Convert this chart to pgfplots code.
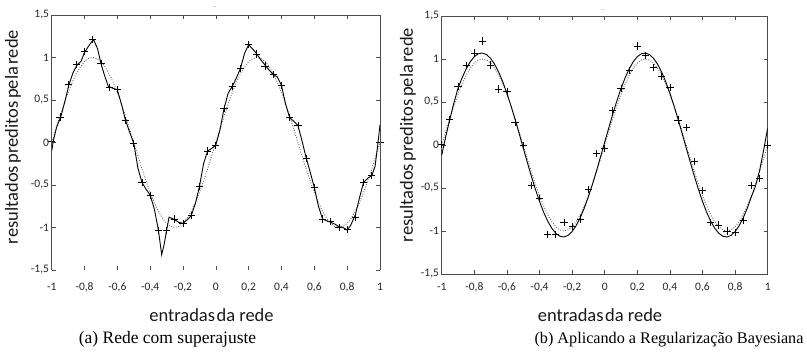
\documentclass[border=0pt]{standalone}
\usepackage{pgfplots}
\pgfplotsset{compat=1.18}
\usepackage{pgfplotstable}
\usepackage{fontspec}
\setmainfont{Carlito}
\newfontfamily\capfont{Liberation Serif}

\pgfplotstableread{
x y
-1.00 0.01
-0.95 0.30
-0.90 0.68
-0.85 0.92
-0.80 1.07
-0.75 1.21
-0.70 0.93
-0.65 0.65
-0.60 0.62
-0.55 0.26
-0.50 -0.01
-0.45 -0.47
-0.40 -0.62
-0.35 -1.04
-0.30 -1.04
-0.25 -0.90
-0.20 -0.95
-0.15 -0.86
-0.10 -0.52
-0.05 -0.10
0.00 -0.04
0.05 0.40
0.10 0.66
0.15 0.87
0.20 1.15
0.25 1.04
0.30 0.90
0.35 0.80
0.40 0.67
0.45 0.29
0.50 0.20
0.55 -0.19
0.60 -0.53
0.65 -0.90
0.70 -0.93
0.75 -1.00
0.80 -1.02
0.85 -0.88
0.90 -0.47
0.95 -0.39
1.00 0.00
}\datapts

\pgfplotstableread{
x y
-1.000 0.000
-0.975 0.156
-0.950 0.309
-0.925 0.454
-0.900 0.588
-0.875 0.707
-0.850 0.809
-0.825 0.891
-0.800 0.951
-0.775 0.988
-0.750 1.000
-0.725 0.988
-0.700 0.951
-0.675 0.891
-0.650 0.809
-0.625 0.707
-0.600 0.588
-0.575 0.454
-0.550 0.309
-0.525 0.156
-0.500 0.000
-0.475 -0.156
-0.450 -0.309
-0.425 -0.454
-0.400 -0.588
-0.375 -0.707
-0.350 -0.809
-0.325 -0.891
-0.300 -0.951
-0.275 -0.988
-0.250 -1.000
-0.225 -0.988
-0.200 -0.951
-0.175 -0.891
-0.150 -0.809
-0.125 -0.707
-0.100 -0.588
-0.075 -0.454
-0.050 -0.309
-0.025 -0.156
0.000 0.000
0.025 0.156
0.050 0.309
0.075 0.454
0.100 0.588
0.125 0.707
0.150 0.809
0.175 0.891
0.200 0.951
0.225 0.988
0.250 1.000
0.275 0.988
0.300 0.951
0.325 0.891
0.350 0.809
0.375 0.707
0.400 0.588
0.425 0.454
0.450 0.309
0.475 0.156
0.500 0.000
0.525 -0.156
0.550 -0.309
0.575 -0.454
0.600 -0.588
0.625 -0.707
0.650 -0.809
0.675 -0.891
0.700 -0.951
0.725 -0.988
0.750 -1.000
0.775 -0.988
0.800 -0.951
0.825 -0.891
0.850 -0.809
0.875 -0.707
0.900 -0.588
0.925 -0.454
0.950 -0.309
0.975 -0.156
1.000 0.000
}\truefn

\pgfplotstableread{
x y
-1.00 -0.10
-0.99 0.02
-0.97 0.18
-0.945 0.30
-0.92 0.48
-0.895 0.68
-0.87 0.82
-0.846 0.91
-0.82 0.96
-0.80 1.06
-0.77 1.15
-0.745 1.21
-0.72 1.10
-0.70 0.93
-0.68 0.80
-0.655 0.66
-0.63 0.64
-0.60 0.62
-0.575 0.45
-0.55 0.26
-0.525 0.12
-0.50 -0.01
-0.475 -0.30
-0.45 -0.47
-0.425 -0.55
-0.40 -0.62
-0.375 -0.78
-0.35 -1.03
-0.33 -1.32
-0.315 -1.20
-0.30 -1.03
-0.285 -0.88
-0.27 -0.89
-0.25 -0.91
-0.225 -0.94
-0.20 -0.95
-0.175 -0.91
-0.15 -0.86
-0.125 -0.72
-0.10 -0.52
-0.075 -0.25
-0.05 -0.10
-0.025 -0.07
0.00 -0.03
0.025 0.15
0.05 0.40
0.075 0.58
0.10 0.66
0.125 0.76
0.15 0.87
0.175 1.05
0.20 1.15
0.225 1.10
0.25 1.04
0.275 0.97
0.30 0.91
0.325 0.85
0.35 0.80
0.375 0.77
0.40 0.67
0.425 0.45
0.45 0.29
0.475 0.25
0.50 0.20
0.525 0.02
0.55 -0.18
0.575 -0.35
0.60 -0.53
0.625 -0.75
0.65 -0.90
0.675 -0.92
0.70 -0.94
0.725 -0.96
0.75 -0.99
0.775 -1.00
0.80 -1.03
0.82 -0.98
0.85 -0.85
0.875 -0.65
0.90 -0.47
0.925 -0.42
0.95 -0.39
0.97 -0.28
0.985 -0.05
1.00 0.21
}\overfit

\pgfplotstableread{
x y
-1.000 -0.12
-0.975 0.10
-0.950 0.30
-0.925 0.49
-0.900 0.66
-0.875 0.78
-0.850 0.885
-0.825 0.968
-0.800 1.027
-0.775 1.061
-0.750 1.070
-0.725 1.051
-0.700 1.007
-0.675 0.937
-0.650 0.846
-0.625 0.733
-0.600 0.601
-0.575 0.456
-0.550 0.299
-0.525 0.134
-0.500 -0.034
-0.475 -0.200
-0.450 -0.363
-0.425 -0.516
-0.400 -0.656
-0.375 -0.780
-0.350 -0.885
-0.325 -0.968
-0.300 -1.027
-0.275 -1.061
-0.250 -1.070
-0.225 -1.051
-0.200 -1.007
-0.175 -0.937
-0.150 -0.846
-0.125 -0.733
-0.100 -0.601
-0.075 -0.456
-0.050 -0.299
-0.025 -0.134
0.000 0.034
0.025 0.200
0.050 0.363
0.075 0.516
0.100 0.656
0.125 0.780
0.150 0.885
0.175 0.968
0.200 1.027
0.225 1.061
0.250 1.070
0.275 1.051
0.300 1.007
0.325 0.937
0.350 0.846
0.375 0.733
0.400 0.601
0.425 0.456
0.450 0.299
0.475 0.134
0.500 -0.034
0.525 -0.200
0.550 -0.363
0.575 -0.516
0.600 -0.656
0.625 -0.780
0.650 -0.885
0.675 -0.968
0.700 -1.027
0.725 -1.061
0.750 -1.070
0.775 -1.051
0.800 -1.007
0.825 -0.937
0.850 -0.846
0.875 -0.733
0.900 -0.601
0.925 -0.48
0.950 -0.30
0.975 -0.06
1.000 0.20
}\bayes

\begin{document}
\begin{tikzpicture}[x=1bp,y=1bp]
\useasboundingbox (0,0) rectangle (807bp,353bp);
\pgfplotsset{
  myax/.style={
    scale only axis,
    xmin=-1, xmax=1, ymin=-1.5, ymax=1.5,
    xtick={-1,-0.8,-0.6,-0.4,-0.2,0,0.2,0.4,0.6,0.8,1},
    xticklabels={-1,{-0,8},{-0,6},{-0,4},{-0,2},0,{0,2},{0,4},{0,6},{0,8},1},
    ytick={-1.5,-1,-0.5,0,0.5,1,1.5},
    yticklabels={{-1,5},-1,{-0,5},0,{0,5},1,{1,5}},
    tick label style={font=\fontsize{11.5bp}{13bp}\selectfont, text=black!85},
    yticklabel style={inner sep=2.5bp},
    major tick length=4bp,
    tick style={black!70, line width=0.7bp},
    axis line style={black!70, line width=0.9bp},
  },
  truestyle/.style={black!60, line width=0.9bp, dash pattern=on 0.9bp off 1.6bp},
  fitstyle/.style={black, line width=0.9bp},
  ptstyle/.style={only marks, mark=+, mark size=3.6bp, mark options={black, line width=0.8bp}},
}
% left panel
\begin{axis}[myax, at={(51.7bp,83bp)}, anchor=south west, width=328.3bp, height=255bp,
  axis line style={draw=none},
  xticklabel style={anchor=base, yshift=-21bp},
  after end axis/.code={\draw[black!70, line width=0.9bp] (rel axis cs:0,0) -- (rel axis cs:0,1) -- (rel axis cs:1,1) -- (rel axis cs:1,0);}]
\addplot[truestyle] table[x=x,y=y] {\truefn};
\addplot[fitstyle] table[x=x,y=y] {\overfit};
\addplot[ptstyle] table[x=x,y=y] {\datapts};
\end{axis}
% right panel
\begin{axis}[myax, at={(441.7bp,79bp)}, anchor=south west, width=326bp, height=258bp,
  xticklabel style={anchor=base, yshift=-17bp}]
\addplot[truestyle] table[x=x,y=y] {\truefn};
\addplot[fitstyle] table[x=x,y=y] {\bayes};
\addplot[ptstyle] table[x=x,y=y] {\datapts};
\end{axis}
% labels
\node[font=\fontsize{18.5bp}{20bp}\selectfont, text=black!90, anchor=base] at (211.5bp,32bp) {entradas\hspace{1.5bp}da rede};
\node[font=\fontsize{18.5bp}{20bp}\selectfont, text=black!90, anchor=base] at (600bp,32bp) {entradas\hspace{1.5bp}da rede};
\node[font=\fontsize{18.5bp}{20bp}\selectfont, text=black!90, rotate=90] at (13bp,216bp) {resultados\hspace{2.5bp}preditos\hspace{2.5bp}pela\hspace{2.5bp}rede};
\node[font=\fontsize{18.5bp}{20bp}\selectfont, text=black!90, rotate=90] at (408bp,218bp) {resultados\hspace{2.5bp}preditos\hspace{2.5bp}pela\hspace{2.5bp}rede};
\node[font=\capfont\fontsize{17.5bp}{20bp}\selectfont, anchor=base] at (167.5bp,10bp) {(a) Rede com superajuste};
\node[font=\capfont\fontsize{16.2bp}{20bp}\selectfont, anchor=base, inner xsep=0pt] at (669bp,10bp) {(b) Aplicando a Regularização Bayesiana};
\node[font=\fontsize{6bp}{7bp}\selectfont, text=black!60] at (215bp,346bp) {..};
\node[font=\fontsize{6bp}{7bp}\selectfont, text=black!60] at (603bp,343bp) {..};
\end{tikzpicture}
\end{document}
